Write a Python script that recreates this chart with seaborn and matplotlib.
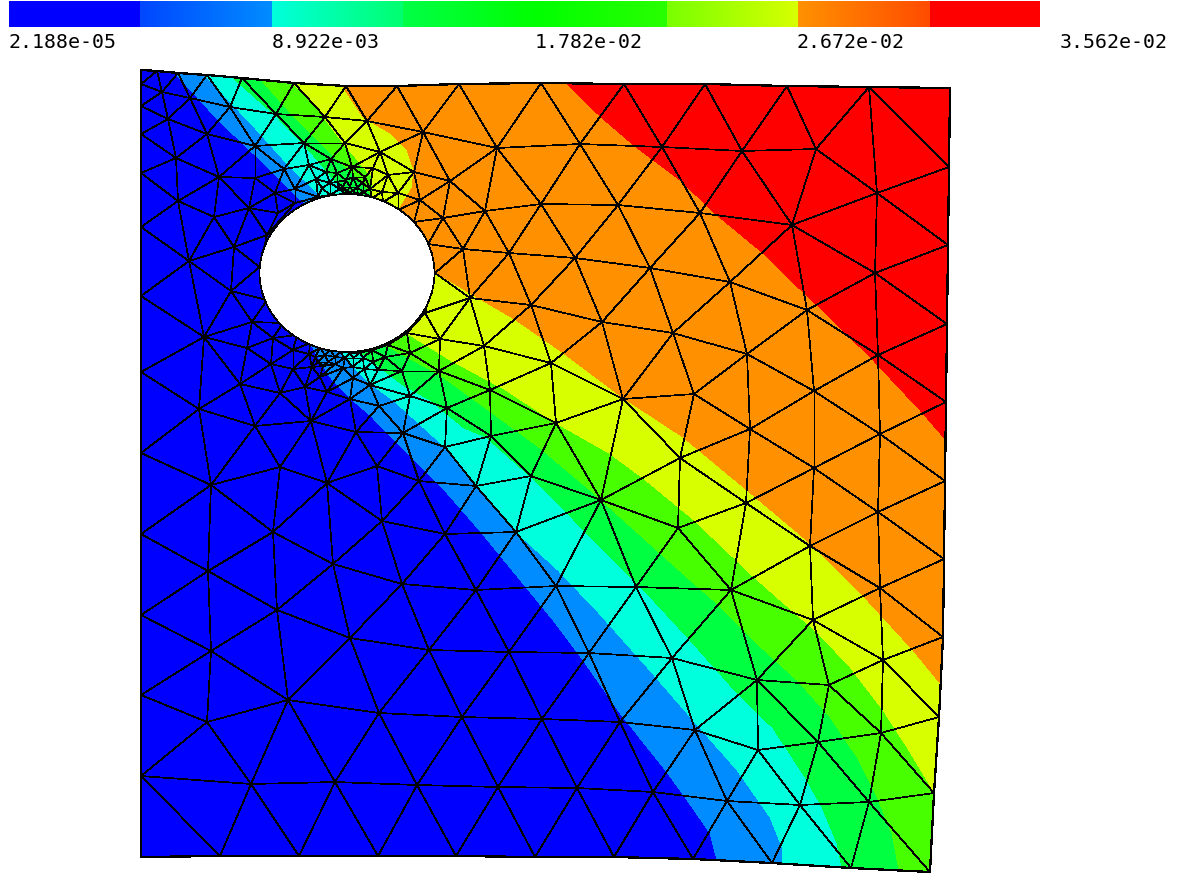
import numpy as np
import pandas as pd
import matplotlib
matplotlib.use("Agg")
import matplotlib.pyplot as plt
import matplotlib.tri as mtri
from matplotlib.colors import ListedColormap
from matplotlib.patches import Polygon, Ellipse
from matplotlib.path import Path
import seaborn as sns

# ---- colour bar ----
tick_labels = ["2.188e-05", "8.922e-03", "1.782e-02", "2.672e-02", "3.562e-02"]
tick_x = [8, 272, 535, 797, 1060]
bar_edges = [9, 140, 272, 403, 535, 667, 798, 930, 1040]
bar_start = [(0, 0, 255), (0, 70, 255), (0, 255, 220), (0, 255, 70), (0, 255, 0), (120, 255, 0), (255, 145, 0), (255, 0, 0)]
bar_end = [(0, 0, 255), (0, 140, 255), (0, 255, 110), (0, 255, 0), (40, 255, 0), (215, 255, 0), (255, 75, 0), (255, 0, 0)]

# ---- plate outline ----
top_edge = [(141, 70), (157, 71), (178, 73), (207, 75), (242, 78), (294, 83), (346, 86), (397, 86), (459, 84),
            (541, 83), (624, 84), (705, 84), (787, 86), (869, 87), (950, 88)]
right_edge = [(949, 167), (948, 245), (947, 324), (946, 402), (945, 481), (944, 559), (943, 637), (939, 717), (934, 793), (930, 872)]
bottom_edge = [(851, 868), (772, 863), (693, 859), (614, 857), (535, 857), (456, 856), (378, 856), (299, 856), (220, 856), (141, 857)]
left_edge = [(141, 776), (141, 695), (141, 615), (141, 534), (141, 453), (141, 372), (141, 296), (141, 227), (141, 173), (141, 134), (141, 106), (141, 84)]

# ---- hole ----
hole_center = (347, 273)
hole_radii = (87.5, 79)
hole_nodes = [(295, 203), (278, 213), (318, 197), (330, 195), (345, 194), (358, 195), (372, 198), (383, 202), (398, 210),
              (414, 222), (428, 244), (435, 273), (425, 313), (407, 333), (388, 345), (372, 350), (360, 352.7), (350, 352.7),
              (340, 352), (330, 350), (320, 348), (310, 343), (297, 335), (283, 323), (267, 300), (259.5, 267), (267, 235)]

# ---- interior mesh nodes ----
nodes_left = [(162, 92), (190, 98), (230, 107), (168, 119), (207, 134), (276, 114), (325, 117), (367, 121), (423, 132),
              (255, 146), (304, 143), (345, 143), (380, 152), (176, 158), (219, 177), (255, 178), (284, 169), (309, 165),
              (331, 159), (352, 167), (388, 175), (414, 172), (373, 168), (365, 177), (275, 193), (295, 189), (178, 201),
              (249, 208), (214, 217), (234, 247), (189, 261), (231, 291), (252, 322), (204, 337), (273, 338), (247, 348),
              (293, 350), (309, 354), (271, 364), (293, 369), (312, 367), (240, 384), (280, 393), (305, 387), (327, 392),
              (320, 377), (199, 409), (255, 426), (311, 421), (356, 432), (403, 433), (211, 485), (280, 467), (327, 483),
              (377, 466), (419, 481), (273, 532), (382, 521), (445, 534), (208, 571), (333, 564), (402, 584), (277, 610),
              (211, 651), (350, 638), (429, 650), (509, 652), (589, 653), (672, 658), (288, 700), (207, 722), (379, 713),
              (462, 717), (542, 719), (620, 722), (695, 730), (758, 750), (818, 742), (881, 733), (251, 784), (335, 782),
              (417, 785), (498, 787), (577, 788), (653, 792), (727, 801), (800, 805), (869, 802)]
nodes_fine_top = [(326, 172), (337, 173), (316, 179), (322, 188), (330, 183), (337, 182), (346, 180), (353, 177), (363, 183),
                  (343, 187), (350, 187), (357, 187), (340, 189), (347, 191), (353, 191), (363, 192), (370, 189), (382, 192),
                  (398, 193), (420, 200), (443, 218), (450, 181)]
nodes_fine_low = [(325, 355), (335, 357), (345, 358), (353, 358), (363, 358), (315, 357), (373, 362), (318, 362), (328, 362),
                  (323, 366), (335, 364), (343, 368), (353, 367), (364, 369), (378, 370), (402, 371), (410, 353), (385, 357),
                  (353, 378), (370, 385), (350, 399), (379, 406), (410, 396), (439, 371), (440, 339), (447, 408)]
nodes_right = [(497, 148), (580, 144), (662, 147), (742, 151), (816, 149), (877, 193), (485, 211), (541, 204), (618, 205),
               (700, 213), (792, 225), (463, 249), (509, 253), (575, 258), (650, 268), (730, 282), (875, 273), (470, 298),
               (531, 305), (602, 322), (673, 333), (807, 310), (484, 346), (551, 363), (747, 354), (878, 355), (490, 390),
               (623, 399), (694, 394), (814, 391), (556, 423), (750, 429), (880, 434), (491, 436), (445, 447), (680, 458),
               (814, 468), (531, 476), (476, 486), (601, 500), (746, 503), (878, 512), (678, 528), (516, 532), (810, 546),
               (556, 586), (636, 587), (476, 590), (731, 590), (880, 588), (813, 620), (883, 660), (757, 680), (829, 685)]

# ---- contour band boundaries (each: limit of the band and everything up-right of it) ----
band_colors = ["#008cff", "#00ffdc", "#00ff40", "#48ff00", "#d7ff00", "#ff9100", "#ff0000"]
blue_limit = [(163, 60), (175, 73), (218, 120), (255, 155), (273, 173), (303, 202), (310, 343), (330, 377), (351, 399), (370, 415),
              (412, 458), (447, 493), (481, 532), (526, 587), (553, 620), (583, 660), (620, 713), (667, 772), (685, 797),
              (710, 833), (717, 860), (718, 890)]
sky_limit = [(192, 60), (205, 75), (255, 128), (290, 167), (320, 195), (340, 352), (368, 382), (393, 400), (445, 447),
             (476, 485), (516, 532), (558, 570), (598, 612), (647, 667), (693, 720), (737, 770), (770, 817), (782, 847),
             (783, 863), (784, 890)]
cyan_limit = [(222, 60), (233, 78), (277, 117), (307, 148), (330, 175), (347, 194), (360, 352), (403, 385), (430, 400),
              (464, 428), (486, 437), (531, 477), (567, 513), (640, 587), (653, 600), (690, 640), (737, 693), (773, 728),
              (805, 777), (822, 807), (837, 843), (842, 867), (845, 890)]
green_limit = [(250, 60), (263, 82), (295, 118), (330, 153), (357, 177), (370, 193), (385, 345), (440, 375), (491, 412),
               (540, 448), (590, 490), (640, 535), (690, 580), (713, 600), (753, 640), (797, 680), (830, 717), (857, 757),
               (877, 797), (892, 833), (899, 870), (902, 890)]
lime_limit = [(280, 60), (292, 83), (313, 103), (343, 143), (372, 177), (372, 192), (405, 332), (450, 360), (504, 389),
              (556, 423), (609, 453), (643, 478), (694, 520), (754, 577), (780, 600), (818, 633), (850, 667), (883, 710),
              (907, 747), (934, 792), (950, 815)]
yellow_limit = [(328, 62), (343, 87), (363, 117), (390, 133), (407, 150), (414, 170), (412, 188), (400, 208), (435, 272), (470, 293),
                (516, 320), (562, 352), (622, 397), (683, 437), (747, 490), (810, 543), (867, 600), (913, 650), (940, 683),
                (965, 712)]
orange_limit = [(545, 60), (566, 83), (601, 117), (636, 147), (680, 180), (717, 215), (763, 253), (803, 292), (819, 307),
                (863, 350), (873, 360), (920, 410), (946, 440), (970, 465)]
band_limits = [blue_limit, sky_limit, cyan_limit, green_limit, lime_limit, yellow_limit, orange_limit]

# ---- figure ----
sns.set_theme(style="white")
plt.rcParams["font.family"] = ["DejaVu Sans Mono"]
fig = plt.figure(figsize=(11.9, 8.85), dpi=100, facecolor="white")
ax = fig.add_axes([0, 0, 1, 1])
ax.set_xlim(0, 1190)
ax.set_ylim(885, 0)

outline = np.array(top_edge + right_edge + bottom_edge + left_edge, dtype=float)
plate = Polygon(outline, closed=True, facecolor="#0000ff", edgecolor="black", lw=0.9, antialiased=False, zorder=1)
ax.add_patch(plate)

far_corners = [(1000, 890), (1000, 40)]
for limit, color in zip(band_limits, band_colors):
    band = Polygon(np.array(limit + far_corners, dtype=float), closed=True, facecolor=color, edgecolor="none",
                   antialiased=False, zorder=2)
    ax.add_patch(band)
    band.set_clip_path(plate)

ax.add_patch(Polygon(outline, closed=True, facecolor="none", edgecolor="black", lw=0.9, antialiased=False, zorder=5))
ax.add_patch(Ellipse(hole_center, 2 * hole_radii[0], 2 * hole_radii[1], facecolor="white", edgecolor="black",
                     lw=0.5, antialiased=False, zorder=5))

# mesh: triangulated from the read nodes, dropping what lies in the hole or off the plate
pts = np.array(top_edge + right_edge + bottom_edge + left_edge + hole_nodes + nodes_left + nodes_fine_top + nodes_fine_low + nodes_right, dtype=float)
tri = mtri.Triangulation(pts[:, 0], pts[:, 1])
cent = pts[tri.triangles].mean(axis=1)
in_hole = ((cent[:, 0] - hole_center[0]) / hole_radii[0]) ** 2 + ((cent[:, 1] - hole_center[1]) / hole_radii[1]) ** 2 < 1
off_plate = ~Path(outline).contains_points(cent)
tri.set_mask(in_hole | off_plate)
edges = tri.edges
mesh = pd.DataFrame({
    "x": pts[edges].reshape(-1, 2)[:, 0],
    "y": pts[edges].reshape(-1, 2)[:, 1],
    "edge": np.repeat(np.arange(len(edges)), 2),
})
sns.lineplot(data=mesh, x="x", y="y", units="edge", estimator=None, sort=False, color="black", lw=0.5,
             antialiased=False, legend=False, ax=ax, zorder=4)
ax.set_xlim(0, 1190)
ax.set_ylim(885, 0)
ax.axis("off")

for x, label in zip(tick_x, tick_labels):
    ax.text(x, 42, label, ha="left", va="center", fontsize=14.3, color="black", zorder=6)

# colour bar
ramp = []
for a, b, c0, c1 in zip(bar_edges[:-1], bar_edges[1:], bar_start, bar_end):
    ramp.append(np.linspace(c0, c1, b - a) / 255)
ramp = np.vstack(ramp)
cax = fig.add_axes([9 / 1190, 1 - 27 / 885, (1040 - 9) / 1190, 26 / 885])
sns.heatmap(np.arange(len(ramp))[None, :], cmap=ListedColormap(ramp), cbar=False, xticklabels=False, yticklabels=False, ax=cax)
cax.axis("off")

fig.savefig("out.png", dpi=100, facecolor="white")
